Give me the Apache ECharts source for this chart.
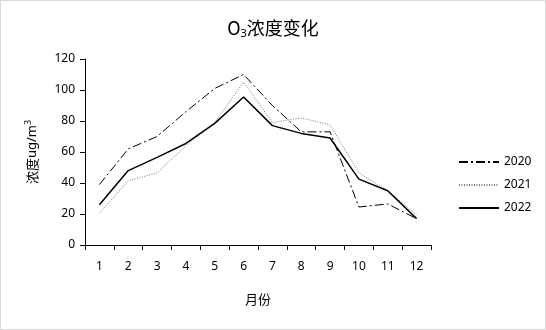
<!DOCTYPE html>
<html>
<head>
<meta charset="utf-8">
<title>O3浓度变化</title>
<script src="https://cdn.jsdelivr.net/npm/echarts@6/dist/echarts.min.js"></script>
</head>
<body style="margin:0;padding:0;background:#fff;">
<div id="main" style="width:544px;height:328px;border:1px solid #d9d9d9;"></div>
<script type="text/javascript">
// 数据
var months = ['1', '2', '3', '4', '5', '6', '7', '8', '9', '10', '11', '12'];
var yTicks = [0, 20, 40, 60, 80, 100, 120];
var data2020 = [39, 62, 70, 86, 101, 110, 90, 73, 73, 24.5, 26.5, 17];
var data2021 = [20.5, 41.5, 46.5, 64, 79, 105, 79, 82, 77.5, 46.5, 35, 19.5];
var data2022 = [26, 48, 56.5, 65.5, 78.5, 95.5, 77, 72, 69, 42.5, 35, 17];

var font = 'Noto Sans, Liberation Sans, sans-serif';
var chart = echarts.init(document.getElementById('main'));

function lineSeries(name, data, color, type, width) {
    return {
        name: name,
        type: 'line',
        data: data,
        symbol: 'none',
        color: color,
        lineStyle: { color: color, width: width, type: type }
    };
}

var option = {
    backgroundColor: '#fff',
    animation: false,
    title: {
        text: '{a|O}{b|3}{a|浓度变化}',
        left: 'center',
        top: 12,
        textStyle: {
            fontWeight: 'normal',
            rich: {
                a: { fontSize: 18, color: '#000', fontWeight: 'normal', fontFamily: 'Noto Sans CJK SC' },
                b: { fontSize: 11, color: '#000', fontWeight: 'normal', fontFamily: font, padding: [10, 0, 0, 0] }
            }
        }
    },
    legend: {
        orient: 'vertical',
        left: 452,
        top: 150,
        itemGap: 11,
        itemWidth: 40,
        itemHeight: 14,
        itemStyle: { opacity: 0 },
        textStyle: { fontSize: 12, color: '#000', fontFamily: font },
        data: ['2020', '2021', '2022']
    },
    grid: { left: 84, right: 114, top: 58, bottom: 84 },
    xAxis: {
        type: 'category',
        data: months,
        boundaryGap: true,
        name: '月份',
        nameLocation: 'middle',
        nameGap: 48,
        nameTextStyle: { fontSize: 13, color: '#000', fontFamily: 'Noto Sans CJK SC' },
        axisLine: { lineStyle: { color: '#000', width: 1 } },
        axisTick: { show: true, alignWithLabel: false, length: 5, lineStyle: { color: '#000' } },
        axisLabel: { color: '#000', fontSize: 12, fontFamily: font, margin: 16 },
        splitLine: { show: false }
    },
    yAxis: {
        type: 'value',
        min: yTicks[0],
        max: yTicks[yTicks.length - 1],
        interval: 20,
        name: '{c|浓度}{d|ug/m}{s|3}',
        nameLocation: 'middle',
        nameRotate: 90,
        nameGap: 44,
        nameTextStyle: {
            rich: {
                c: { fontSize: 13, color: '#000', fontFamily: 'Noto Sans CJK SC' },
                d: { fontSize: 13, color: '#000', fontFamily: font },
                s: { fontSize: 9, color: '#000', fontFamily: font, padding: [0, 0, 8, 0] }
            }
        },
        axisLine: { show: true, lineStyle: { color: '#000', width: 1 } },
        axisTick: { show: true, length: 5, lineStyle: { color: '#000' } },
        axisLabel: { color: '#000', fontSize: 12, fontFamily: font, margin: 10 },
        splitLine: { show: false }
    },
    series: [
        lineSeries('2020', data2020, '#000', [9, 3, 2, 3], 1),
        lineSeries('2021', data2021, '#777', [1, 1.5], 1),
        lineSeries('2022', data2022, '#000', 'solid', 1.5)
    ]
};
chart.setOption(option);
</script>
</body>
</html>
